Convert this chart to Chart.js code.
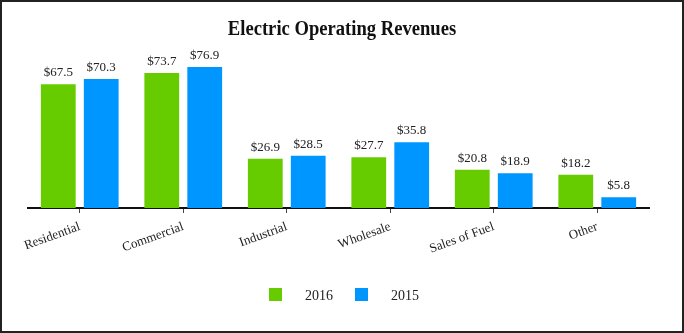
<!DOCTYPE html>
<html>
<head>
<meta charset="utf-8">
<script src="https://cdn.jsdelivr.net/npm/chart.js@4.4.1/dist/chart.umd.min.js"></script>
<style>
  html, body { margin: 0; padding: 0; background: #fff; }
  #wrap { width: 684px; height: 333px; position: relative; }
</style>
</head>
<body>
<div id="wrap"><canvas id="c" width="684" height="333"></canvas></div>
<script>
const categories = ["Residential", "Commercial", "Industrial", "Wholesale", "Sales of Fuel", "Other"];
const values2016 = [67.5, 73.7, 26.9, 27.7, 20.8, 18.2];
const values2015 = [70.3, 76.9, 28.5, 35.8, 18.9, 5.8];
const seriesNames = ["2016", "2015"];
const titleText = "Electric Operating Revenues";

const GREEN = "#66CC00";
const BLUE = "#0096FF";
const SERIF = "'Liberation Serif', 'Times New Roman', serif";

const decorPlugin = {
  id: "decor",
  beforeDraw(chart) {
    const ctx = chart.ctx;
    ctx.save();
    ctx.fillStyle = "#fff";
    ctx.fillRect(0, 0, chart.width, chart.height);
    ctx.restore();
  },
  afterDraw(chart) {
    const ctx = chart.ctx;
    ctx.save();
    // border
    ctx.strokeStyle = "#222";
    ctx.lineWidth = 2;
    ctx.strokeRect(1, 1, chart.width - 2, chart.height - 2);
    // title (slightly condensed)
    ctx.save();
    ctx.fillStyle = "#111";
    ctx.font = "bold 20px " + SERIF;
    ctx.textAlign = "center";
    ctx.textBaseline = "alphabetic";
    ctx.translate(342, 35);
    ctx.scale(0.93, 1);
    ctx.fillText(titleText, 0, 0);
    ctx.restore();
    // value labels
    ctx.font = "13px " + SERIF;
    ctx.fillStyle = "#222";
    ctx.textAlign = "center";
    chart.data.datasets.forEach((ds, i) => {
      const meta = chart.getDatasetMeta(i);
      meta.data.forEach((bar, j) => {
        ctx.fillText("$" + ds.data[j].toFixed(1), bar.x, bar.y - 8);
      });
    });
    // legend
    const items = chart.data.datasets.map(ds => ({ label: ds.label, color: ds.backgroundColor }));
    const xs = [269, 355];
    ctx.font = "14px " + SERIF;
    ctx.textAlign = "left";
    items.forEach((it, k) => {
      ctx.fillStyle = it.color;
      ctx.fillRect(xs[k], 288, 13, 13);
      ctx.fillStyle = "#222";
      ctx.fillText(it.label, xs[k] + 36, 300);
    });
    ctx.restore();
  }
};

new Chart(document.getElementById("c"), {
  type: "bar",
  data: {
    labels: categories,
    datasets: [
      { label: seriesNames[0], data: values2016, backgroundColor: GREEN },
      { label: seriesNames[1], data: values2015, backgroundColor: BLUE }
    ]
  },
  options: {
    responsive: false,
    animation: false,
    devicePixelRatio: 1,
    categoryPercentage: 0.83,
    barPercentage: 0.81,
    layout: { padding: { top: 43, left: 28, right: 35, bottom: 0 } },
    plugins: {
      legend: { display: false },
      title: { display: false },
      tooltip: { enabled: false }
    },
    scales: {
      y: { display: false, min: 0, max: 90 },
      x: {
        afterFit(scale) { scale.height = 125; },
        border: { display: true, color: "#111", width: 2 },
        grid: { display: true, drawOnChartArea: false, drawTicks: true, tickLength: 5, offset: false, color: "#444", lineWidth: 1 },
        ticks: {
          minRotation: 20, maxRotation: 20, padding: 6,
          color: "#222",
          font: { family: SERIF, size: 13 }
        }
      }
    }
  },
  plugins: [decorPlugin]
});
</script>
</body>
</html>
